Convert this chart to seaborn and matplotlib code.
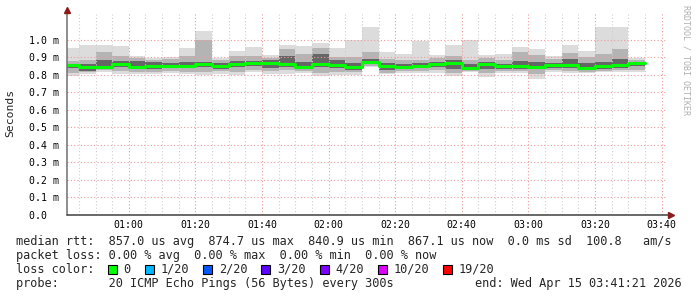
import numpy as np
import pandas as pd
import matplotlib
matplotlib.use("Agg")
import matplotlib.pyplot as plt
import seaborn as sns
from matplotlib.patches import Rectangle

sns.set_style("white")
plt.rcParams['font.family'] = ['DejaVu Sans Mono', 'DejaVu Sans']

# ---------------- data (ms) ----------------
window_start = "00:41:21"
window_end = "03:41:21"
bar_ends = [t.strftime("%H:%M") for t in pd.date_range("2026-04-15 00:45", "2026-04-15 03:35", freq="5min")]

rtt_max = [0.953, 0.968, 0.968, 0.962, 0.909, 0.899, 0.903, 0.953, 1.048, 0.896, 0.935, 0.959,
           0.914, 0.973, 0.962, 0.980, 0.953, 1.000, 1.075, 0.932, 0.919, 0.991, 0.914, 0.973,
           1.000, 0.914, 0.919, 0.959, 0.946, 0.909, 0.968, 0.937, 1.075, 1.075, 0.899]
rtt_hi2 = [0.878, 0.887, 0.930, 0.905, 0.896, 0.887, 0.890, 0.905, 1.000, 0.885, 0.910, 0.910,
           0.895, 0.950, 0.920, 0.955, 0.900, 0.900, 0.930, 0.890, 0.885, 0.885, 0.895, 0.910,
           0.885, 0.895, 0.885, 0.930, 0.915, 0.890, 0.925, 0.900, 0.920, 0.950, 0.885]
rtt_hi1 = [0.864, 0.860, 0.887, 0.878, 0.878, 0.875, 0.870, 0.872, 0.875, 0.865, 0.880, 0.880,
           0.885, 0.905, 0.875, 0.920, 0.885, 0.870, 0.890, 0.865, 0.862, 0.866, 0.875, 0.887,
           0.862, 0.875, 0.862, 0.880, 0.875, 0.870, 0.890, 0.865, 0.875, 0.890, 0.875]
rtt_median = [0.855, 0.842, 0.846, 0.864, 0.842, 0.848, 0.853, 0.851, 0.860, 0.851, 0.864, 0.866,
              0.865, 0.860, 0.842, 0.860, 0.855, 0.842, 0.875, 0.851, 0.846, 0.851, 0.860, 0.869,
              0.839, 0.860, 0.851, 0.848, 0.846, 0.855, 0.855, 0.841, 0.851, 0.855, 0.867]
rtt_lo1 = [0.839, 0.824, 0.835, 0.845, 0.832, 0.836, 0.840, 0.838, 0.845, 0.835, 0.845, 0.850,
           0.840, 0.845, 0.835, 0.845, 0.840, 0.830, 0.860, 0.825, 0.835, 0.840, 0.845, 0.835,
           0.830, 0.835, 0.835, 0.835, 0.832, 0.840, 0.840, 0.828, 0.835, 0.840, 0.848]
rtt_lo2 = [0.810, 0.815, 0.825, 0.820, 0.815, 0.818, 0.820, 0.815, 0.815, 0.820, 0.815, 0.830,
           0.820, 0.825, 0.820, 0.810, 0.815, 0.815, 0.850, 0.812, 0.820, 0.822, 0.825, 0.812,
           0.820, 0.810, 0.820, 0.820, 0.805, 0.825, 0.822, 0.818, 0.822, 0.828, 0.830]
rtt_min = [0.792, 0.803, 0.819, 0.806, 0.806, 0.806, 0.810, 0.806, 0.797, 0.806, 0.797, 0.815,
           0.806, 0.806, 0.812, 0.794, 0.797, 0.797, 0.843, 0.803, 0.810, 0.810, 0.810, 0.792,
           0.815, 0.785, 0.810, 0.810, 0.776, 0.815, 0.810, 0.810, 0.815, 0.819, 0.815]

x_tick_labels = ["01:00", "01:20", "01:40", "02:00", "02:20", "02:40", "03:00", "03:20", "03:40"]
loss_labels = ["0", "1/20", "2/20", "3/20", "4/20", "10/20", "19/20"]
loss_colors = ["#00ff00", "#00b8ff", "#0059ff", "#5e00ff", "#7e00ff", "#dd00ff", "#ff0000"]

line_rtt = "median rtt:  857.0 us avg  874.7 us max  840.9 us min  867.1 us now  0.0 ms sd  100.8   am/s"
line_loss = "packet loss: 0.00 % avg  0.00 % max  0.00 % min  0.00 % now"
line_probe = "probe:       20 ICMP Echo Pings (56 Bytes) every 300s"
line_end = "end: Wed Apr 15 03:41:21 2026"


def to_min(s):
    p = [float(v) for v in s.split(":")]
    return p[0] * 60 + p[1] + (p[2] / 60 if len(p) > 2 else 0)


x0 = to_min(window_start)
x1 = to_min(window_end) if to_min(window_end) > x0 else to_min(window_end) + 1440
ends = np.array([to_min(s) for s in bar_ends])
lefts = np.concatenate([[x0], ends[:-1]])
widths = ends - lefts

df = pd.DataFrame(dict(left=lefts, width=widths, mn=rtt_min, lo2=rtt_lo2, lo1=rtt_lo1,
                       med=rtt_median, hi1=rtt_hi1, hi2=rtt_hi2, mx=rtt_max))

W, H = 697, 297
fig = plt.figure(figsize=(W / 100, H / 100), dpi=100)
L, R, B, T = 66.7, 666.1, 215.0, 12.5
ax = fig.add_axes([L / W, 1 - B / H, (R - L) / W, (B - T) / H])
ax.set_facecolor("white")

for lo, hi, col in [("mn", "mx", "#dcdcdc"), ("lo2", "hi2", "#b4b4b4"), ("lo1", "hi1", "#666666")]:
    ax.bar(df["left"], df[hi] - df[lo], bottom=df[lo], width=df["width"], align="edge",
           color=col, linewidth=0, zorder=1)

step = pd.DataFrame(dict(t=np.concatenate([lefts, [ends[-1]]]),
                         v=np.concatenate([rtt_median, [rtt_median[-1]]])))
sns.lineplot(data=step, x="t", y="v", drawstyle="steps-post", color="#00ff00", lw=2.2,
             estimator=None, ax=ax, zorder=4, legend=False)

ax.set_xlim(x0, x1)
ax.set_ylim(0, (B - 0) / 186.0)
ax.set_xlabel("")
ax.set_ylabel("")

major_x = [to_min(s) for s in x_tick_labels]
ax.set_xticks(major_x)
ax.set_xticklabels(x_tick_labels)
ax.set_xticks(np.arange(45, x1, 5), minor=True)
yt = np.round(np.arange(0, 1.01, 0.1), 1)
ax.set_yticks(yt)
ax.set_yticklabels(["0.0  " if v == 0 else f"{v:.1f} m" for v in yt])
ax.tick_params(axis="both", which="both", length=0, labelsize=7.1, colors="#000000")
ax.tick_params(axis="x", pad=3.6)
ax.tick_params(axis="y", pad=5.3)

dot = (0, (1, 2))
ax.grid(False)
ax.set_axisbelow(False)
ax.grid(which="minor", axis="x", color="#cfcfcf", linestyle=dot, linewidth=0.8)
ax.grid(which="major", axis="x", color="#f29a9a", linestyle=dot, linewidth=0.8)
ax.grid(which="major", axis="y", color="#f29a9a", linestyle=dot, linewidth=0.8)

for s in ax.spines.values():
    s.set_visible(False)
ax.plot([0, 0], [0, 1.005], transform=ax.transAxes, color="#707070", lw=1.1, clip_on=False, zorder=5)
ax.plot([0, 1.006], [0, 0], transform=ax.transAxes, color="#404040", lw=1.1, clip_on=False, zorder=5)
ax.plot([0], [1.012], marker="^", ms=4.5, color="#8b1a1a", transform=ax.transAxes, clip_on=False, zorder=6)
ax.plot([1.008], [0], marker=">", ms=4.5, color="#8b1a1a", transform=ax.transAxes, clip_on=False, zorder=6)

fs = 8.55
def ftxt(x, y, s, **kw):
    fig.text(x / W, 1 - y / H, s, fontsize=kw.pop("fontsize", fs), **kw)

ftxt(10.5, 113, "Seconds", rotation=90, ha="center", va="center", fontsize=8.2)
ftxt(686, 5, "RRDTOOL / TOBI OETIKER", rotation=270, ha="center", va="top", fontsize=6.0, color="#b0b0b0")

x_text = 16.5
ftxt(x_text, 241.7, line_rtt, ha="left", va="center")
ftxt(x_text, 255.3, line_loss, ha="left", va="center")
ftxt(x_text, 269.3, "loss color:", ha="left", va="center")
ftxt(x_text, 283.3, line_probe, ha="left", va="center")
ftxt(681.5, 283.3, line_end, ha="right", va="center")

cw = 7.1
bx = 108.1
for lab, col in zip(loss_labels, loss_colors):
    fig.patches.append(Rectangle((bx / W, 1 - (269.3 + 4.5) / H), 9 / W, 9 / H,
                                 transform=fig.transFigure, facecolor=col, edgecolor="black",
                                 linewidth=0.8, figure=fig))
    ftxt(bx + 15.6, 269.3, lab, ha="left", va="center")
    bx = bx + 15.6 + (len(lab) + 2) * cw

fig.savefig("out.png", dpi=100, facecolor="white")
